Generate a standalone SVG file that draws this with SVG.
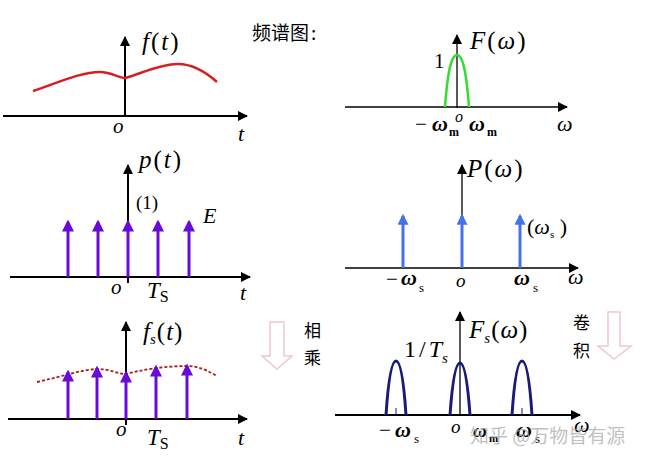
<svg xmlns="http://www.w3.org/2000/svg" width="647" height="461" viewBox="0 0 647 461">
<defs>
<marker id="ah" viewBox="0 0 10 10" refX="9" refY="5" markerWidth="14" markerHeight="10" markerUnits="userSpaceOnUse" orient="auto"><path d="M0,0 L10,5 L0,10 z" fill="#000"/></marker>
<marker id="ahp" viewBox="0 0 10 10" refX="8" refY="5" markerWidth="12" markerHeight="12" markerUnits="userSpaceOnUse" orient="auto"><path d="M0,0 L10,5 L0,10 z" fill="#6a0ad8"/></marker>
<marker id="ahb" viewBox="0 0 10 10" refX="8" refY="5" markerWidth="12" markerHeight="11" markerUnits="userSpaceOnUse" orient="auto"><path d="M0,0 L10,5 L0,10 z" fill="#4472e8"/></marker>
</defs>
<style>
.ax{stroke:#000;stroke-width:2;fill:none}
.axt{stroke:#000;stroke-width:1.3;fill:none}
.imp{stroke:#6a0ad8;stroke-width:3;fill:none}
.impb{stroke:#4472e8;stroke-width:3;fill:none}
.arch{stroke:#1a1a7a;stroke-width:3;fill:none}
.it{font-family:"Liberation Serif",serif;font-style:italic;fill:#000}
.rm{font-family:"Liberation Serif",serif;fill:#000}
.bw{font-family:"Liberation Serif",serif;font-style:italic;font-weight:bold;fill:#000}
.cn{font-family:"Noto Sans CJK SC","Noto Sans",sans-serif;fill:#000}
.pa{fill:none;stroke:#f2c4d4;stroke-width:1.5}
.lb{letter-spacing:2px}
</style>
<rect width="647" height="461" fill="#fff"/>

<g id="title"><text class="cn" x="252" y="40" font-size="19">频谱图<tspan dx="2">:</tspan></text></g>

<g id="connectors">
<line class="ax" x1="3" y1="116" x2="247" y2="116" marker-end="url(#ah)"/>
<line class="ax" x1="125" y1="117" x2="125" y2="37" marker-end="url(#ah)"/>
<line class="axt" x1="345" y1="107" x2="567" y2="107" marker-end="url(#ah)"/>
<line class="axt" x1="457" y1="108" x2="457" y2="35" marker-end="url(#ah)"/>
<line class="ax" x1="10" y1="277" x2="250" y2="277" marker-end="url(#ah)"/>
<line class="ax" x1="128" y1="283" x2="128" y2="165" marker-end="url(#ah)"/>
<line class="axt" x1="345" y1="268" x2="578" y2="268" marker-end="url(#ah)"/>
<line class="axt" x1="462" y1="269" x2="462" y2="165" marker-end="url(#ah)"/>
<line class="ax" x1="8" y1="419" x2="247" y2="419" marker-end="url(#ah)"/>
<line class="ax" x1="126" y1="425" x2="126" y2="322" marker-end="url(#ah)"/>
<line class="ax" x1="335" y1="415" x2="580" y2="415" marker-end="url(#ah)"/>
<line class="axt" x1="460" y1="416" x2="460" y2="312" marker-end="url(#ah)"/>
</g>

<g id="panel-ft">
<path d="M33,91 C55,84 80,72 100,72 C112,72 118,78 125,78 C140,74 160,64 178,64 C195,64 208,74 217,82" fill="none" stroke="#d42020" stroke-width="2.5"/>
<text class="it lb" x="142" y="50" font-size="25">f<tspan font-style="normal">(</tspan>t<tspan font-style="normal">)</tspan></text>
<text class="it" x="113" y="133" font-size="21">o</text>
<text class="it" x="238" y="141" font-size="22">t</text>
</g>

<g id="panel-Fw">
<path d="M445,107 C447,80 450,55 457,55 C464,55 467,80 469,107" fill="none" stroke="#33dd33" stroke-width="2.5"/>
<text class="it lb" x="470" y="49" font-size="25">F<tspan font-style="normal">(</tspan>ω<tspan font-style="normal">)</tspan></text>
<text class="rm" x="434" y="68" font-size="21">1</text>
<text class="rm" x="415" y="131" font-size="21">−</text>
<text class="bw" x="432" y="131" font-size="22">ω</text>
<text class="rm" x="449" y="136" font-size="12" font-weight="bold">m</text>
<text class="it" x="455" y="122" font-size="16">o</text>
<text class="bw" x="469" y="131" font-size="22">ω</text>
<text class="rm" x="487" y="136" font-size="12" font-weight="bold">m</text>
<text class="it" x="557" y="131" font-size="22">ω</text>
</g>

<g id="panel-pt">
<line class="imp" x1="68" y1="277" x2="68" y2="222" marker-end="url(#ahp)"/>
<line class="imp" x1="98" y1="277" x2="98" y2="222" marker-end="url(#ahp)"/>
<line class="imp" x1="128" y1="277" x2="128" y2="222" marker-end="url(#ahp)"/>
<line class="imp" x1="158" y1="277" x2="158" y2="222" marker-end="url(#ahp)"/>
<line class="imp" x1="189" y1="277" x2="189" y2="222" marker-end="url(#ahp)"/>
<text class="it lb" x="139" y="168" font-size="25">p<tspan font-style="normal">(</tspan>t<tspan font-style="normal">)</tspan></text>
<text class="rm" x="136" y="209" font-size="19">(1)</text>
<text class="it" x="203" y="223" font-size="22">E</text>
<text class="it" x="111" y="294" font-size="21">o</text>
<text class="it" x="147" y="298" font-size="23">T<tspan font-style="normal" font-size="16" dy="4">S</tspan></text>
<text class="it" x="240" y="300" font-size="22">t</text>
</g>

<g id="panel-Pw">
<line class="impb" x1="403" y1="268" x2="403" y2="216" marker-end="url(#ahb)"/>
<line class="impb" x1="462" y1="268" x2="462" y2="216" marker-end="url(#ahb)"/>
<line class="impb" x1="520" y1="268" x2="520" y2="216" marker-end="url(#ahb)"/>
<text class="it lb" x="467" y="177" font-size="25">P<tspan font-style="normal">(</tspan>ω<tspan font-style="normal">)</tspan></text>
<text class="rm" x="527" y="234" font-size="22">(<tspan font-style="italic">ω</tspan><tspan font-size="11" dy="4">s</tspan><tspan dy="-4"> )</tspan></text>
<text class="rm" x="386" y="286" font-size="21">−</text>
<text class="bw" x="401" y="285" font-size="22">ω</text>
<text class="rm" x="419" y="292" font-size="13">s</text>
<text class="it" x="456" y="287" font-size="19">o</text>
<text class="bw" x="514" y="285" font-size="22">ω</text>
<text class="rm" x="533" y="292" font-size="13">s</text>
<text class="it" x="568" y="284" font-size="22">ω</text>
</g>

<g id="panel-fst">
<path d="M37,382 C60,377 80,370 97,369 C110,369 118,374 126,374 C140,370 165,366 187,366 C200,366 210,372 217,376" fill="none" stroke="#b01818" stroke-width="1.8" stroke-dasharray="3,2"/>
<line class="imp" x1="68" y1="419" x2="68" y2="372" marker-end="url(#ahp)"/>
<line class="imp" x1="97" y1="419" x2="97" y2="368" marker-end="url(#ahp)"/>
<line class="imp" x1="126" y1="419" x2="126" y2="373" marker-end="url(#ahp)"/>
<line class="imp" x1="156" y1="419" x2="156" y2="367" marker-end="url(#ahp)"/>
<line class="imp" x1="187" y1="419" x2="187" y2="366" marker-end="url(#ahp)"/>
<text class="it" x="143" y="340" font-size="25">f<tspan font-size="15" dy="4">s</tspan><tspan font-style="normal" dy="-4" dx="1">(</tspan><tspan dx="1">t</tspan><tspan font-style="normal" dx="1">)</tspan></text>
<text class="it" x="116" y="436" font-size="21">o</text>
<text class="it" x="147" y="445" font-size="23">T<tspan font-style="normal" font-size="16" dy="4">S</tspan></text>
<text class="it" x="238" y="445" font-size="22">t</text>
</g>

<g id="arrow-multiply">
<path class="pa" d="M270,322 L284,322 L284,356 L292,356 L277,369 L262,356 L270,356 Z"/>
<text class="cn" x="304" y="337" font-size="17">相</text>
<text class="cn" x="304" y="364" font-size="17">乘</text>
</g>

<g id="panel-Fsw">
<path class="arch" d="M386,415 C388,385 391,361 396,361 C401,361 404,385 406,415"/>
<path class="arch" d="M450,415 C452,387 455,363 460,363 C465,363 468,387 470,415"/>
<path class="arch" d="M512,415 C514,385 517,361 522,361 C527,361 530,385 532,415"/>
<line x1="396" y1="408" x2="396" y2="415" stroke="#1a1a7a" stroke-width="1"/>
<line x1="522" y1="408" x2="522" y2="415" stroke="#1a1a7a" stroke-width="1"/>
<text class="rm" x="404" y="357" font-size="24">1<tspan dx="3">/</tspan><tspan font-style="italic" dx="3">T</tspan><tspan font-style="italic" font-size="15" dy="6">s</tspan></text>
<text class="it" x="469" y="338" font-size="25">F<tspan font-size="15" dy="5">s</tspan><tspan font-style="normal" dy="-5" dx="1">(</tspan><tspan dx="1">ω</tspan><tspan font-style="normal" dx="1">)</tspan></text>
<text class="rm" x="379" y="437" font-size="21">−</text>
<text class="bw" x="395" y="437" font-size="22">ω</text>
<text class="rm" x="414" y="443" font-size="13">s</text>
<text class="it" x="451" y="433" font-size="19">o</text>
<text class="bw" x="473" y="437" font-size="19">ω</text>
<text class="rm" x="489" y="442" font-size="11" font-weight="bold">m</text>
<text class="bw" x="516" y="437" font-size="22">ω</text>
<text class="rm" x="535" y="443" font-size="13">s</text>
<text class="it" x="574" y="432" font-size="22">ω</text>
</g>

<g id="arrow-convolve">
<path class="pa" d="M608,312 L620,312 L620,346 L631,346 L614,359 L598,346 L608,346 Z"/>
<text class="cn" x="573" y="329" font-size="17">卷</text>
<text class="cn" x="573" y="357" font-size="17">积</text>
</g>

<g id="watermark"><text x="470" y="443" font-family="'Noto Sans CJK SC','Noto Sans',sans-serif" font-size="19" fill="#aaaaaa" fill-opacity="0.75">知乎 @万物皆有源</text></g>
</svg>
